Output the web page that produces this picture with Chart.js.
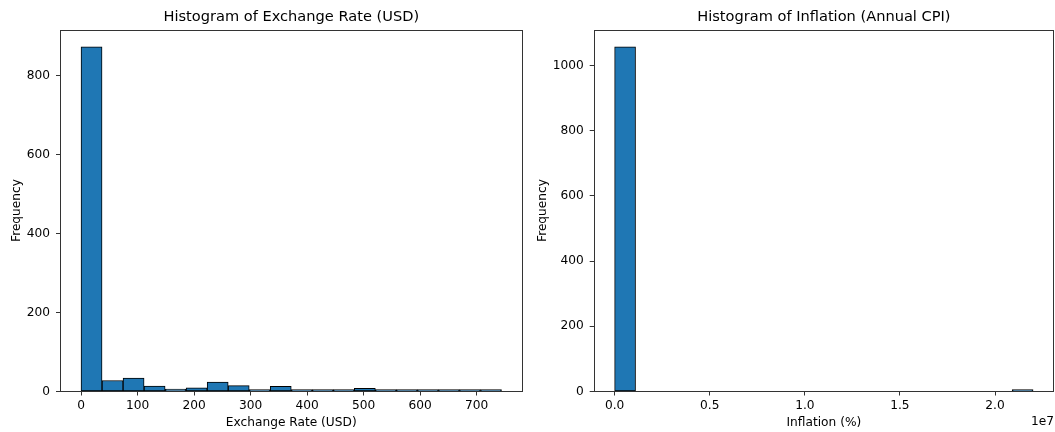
<!DOCTYPE html>
<html>
<head>
<meta charset="utf-8">
<script src="https://cdn.jsdelivr.net/npm/chart.js@4/dist/chart.umd.min.js"></script>
<style>
    html, body { margin: 0; padding: 0; background: #fff; overflow: hidden; }
    canvas { position: absolute; top: 0; }
    #rateChart { left: 0; }
    #inflationChart { left: 530px; }
</style>
</head>
<body>
<canvas id="rateChart" width="530" height="432"></canvas>
<canvas id="inflationChart" width="525" height="432"></canvas>
<script>
// exchange rate histogram
const rateBinStarts = [0, 37.2, 74.4, 111.6, 148.8, 186, 223.2, 260.4, 297.6, 334.8,
    372, 409.2, 446.4, 483.6, 520.8, 558, 595.2, 632.4, 669.6, 706.8];
const rateBinWidth = 37.2;
const rateCounts = [874, 28, 34, 14, 6, 9, 24, 15, 4, 13, 4, 2, 5, 8, 5, 1, 4, 1, 1, 1];
const rateXTicks = [0, 100, 200, 300, 400, 500, 600, 700];
const rateXLabels = ['0', '100', '200', '300', '400', '500', '600', '700'];
const rateYTicks = [0, 200, 400, 600, 800];

// inflation histogram
const inflationBinStarts = [0, 1.1e6, 2.2e6, 3.3e6, 4.4e6, 5.5e6, 6.6e6, 7.7e6, 8.8e6, 9.9e6,
    1.1e7, 1.21e7, 1.32e7, 1.43e7, 1.54e7, 1.65e7, 1.76e7, 1.87e7, 1.98e7, 2.09e7];
const inflationBinWidth = 1.1e6;
const inflationCounts = [1057, 0, 0, 0, 0, 0, 0, 0, 0, 0, 0, 0, 0, 0, 0, 0, 0, 0, 0, 1];
const inflationXTicks = [0, 5e6, 1e7, 1.5e7, 2e7];
const inflationXLabels = ['0.0', '0.5', '1.0', '1.5', '2.0'];
const inflationYTicks = [0, 200, 400, 600, 800, 1000];

Chart.defaults.font.family = "'DejaVu Sans', sans-serif";
Chart.defaults.font.size = 12.2;
Chart.defaults.color = '#000';
Chart.defaults.animation = false;

const framePlugin = {
    id: 'frame',
    afterDraw(chart, args, opts) {
        const {ctx, chartArea} = chart;
        ctx.save();
        ctx.strokeStyle = '#333';
        ctx.lineWidth = 1;
        const l = Math.round(chartArea.left) + 0.5;
        const t = Math.round(chartArea.top) + 0.5;
        const r = Math.round(chartArea.right) - 0.5;
        const b = Math.round(chartArea.bottom) - 0.5;
        ctx.strokeRect(l, t, r - l, b - t);
        if (opts.offsetText) {
            ctx.fillStyle = '#000';
            ctx.font = "12.2px 'DejaVu Sans'";
            ctx.textAlign = 'right';
            ctx.textBaseline = 'middle';
            ctx.fillText(opts.offsetText, chartArea.right, 421.5);
        }
        ctx.restore();
    }
};

function histogram(canvas, cfg) {
    // empty bins draw nothing, like the edges hidden under the spine
    const points = cfg.starts.map((s, i) => ({x: s + cfg.width / 2, y: cfg.counts[i] || null}));
    return new Chart(canvas, {
        type: 'bar',
        data: {
            datasets: [{
                data: points,
                backgroundColor: '#1f77b4',
                borderColor: '#000',
                borderWidth: 1,
                borderSkipped: false,
                minBarLength: 2,
                barPercentage: 1,
                categoryPercentage: 1
            }]
        },
        plugins: [framePlugin],
        options: {
            responsive: false,
            layout: {
                padding: {left: 0, right: cfg.padRight, top: 0, bottom: 0}
            },
            scales: {
                x: {
                    type: 'linear',
                    offset: false,
                    min: cfg.xMin,
                    max: cfg.xMax,
                    afterBuildTicks: (scale) => {
                        scale.ticks = cfg.xTicks.map(v => ({value: v}));
                    },
                    afterFit: (scale) => {
                        scale.height = 40.5;
                    },
                    ticks: {
                        padding: 3,
                        maxRotation: 0,
                        autoSkip: false,
                        callback: (v, i) => cfg.xLabels[i]
                    },
                    grid: {
                        offset: false,
                        drawOnChartArea: false,
                        drawTicks: true,
                        tickLength: 4,
                        color: '#333'
                    },
                    border: {display: false},
                    title: {
                        display: true,
                        text: cfg.xTitle,
                        padding: {top: 0, bottom: 2.2}
                    }
                },
                y: {
                    min: 0,
                    max: cfg.yMax,
                    afterBuildTicks: (scale) => {
                        scale.ticks = cfg.yTicks.map(v => ({value: v}));
                    },
                    afterFit: (scale) => {
                        scale.width = cfg.yWidth;
                    },
                    ticks: {
                        padding: 6,
                        autoSkip: false,
                        callback: (v) => String(v)
                    },
                    grid: {
                        offset: false,
                        drawOnChartArea: false,
                        drawTicks: true,
                        tickLength: 4,
                        color: '#333'
                    },
                    border: {display: false},
                    title: {
                        display: true,
                        text: 'Frequency',
                        padding: {top: cfg.yTitlePad, bottom: 0}
                    }
                }
            },
            plugins: {
                legend: {display: false},
                tooltip: {enabled: false},
                frame: {offsetText: cfg.offsetText},
                title: {
                    display: true,
                    fullSize: false,
                    text: cfg.title,
                    color: '#000',
                    font: {size: 14.6, weight: 'normal'},
                    padding: {top: 8.75, bottom: 3.25}
                }
            }
        }
    });
}

histogram(document.getElementById('rateChart'), {
    starts: rateBinStarts,
    width: rateBinWidth,
    counts: rateCounts,
    xTicks: rateXTicks,
    xLabels: rateXLabels,
    yTicks: rateYTicks,
    xMin: -37.2,
    xMax: 781.2,
    yMax: 917.7,
    yWidth: 60,
    yTitlePad: 9.4,
    padRight: 7.5,
    xTitle: 'Exchange Rate (USD)',
    title: 'Histogram of Exchange Rate (USD)',
    offsetText: ''
});

histogram(document.getElementById('inflationChart'), {
    starts: inflationBinStarts,
    width: inflationBinWidth,
    counts: inflationCounts,
    xTicks: inflationXTicks,
    xLabels: inflationXLabels,
    yTicks: inflationYTicks,
    xMin: -1.1e6,
    xMax: 2.31e7,
    yMax: 1110,
    yWidth: 63.7,
    yTitlePad: 5.4,
    padRight: 1,
    xTitle: 'Inflation (%)',
    title: 'Histogram of Inflation (Annual CPI)',
    offsetText: '1e7'
});
</script>
</body>
</html>
